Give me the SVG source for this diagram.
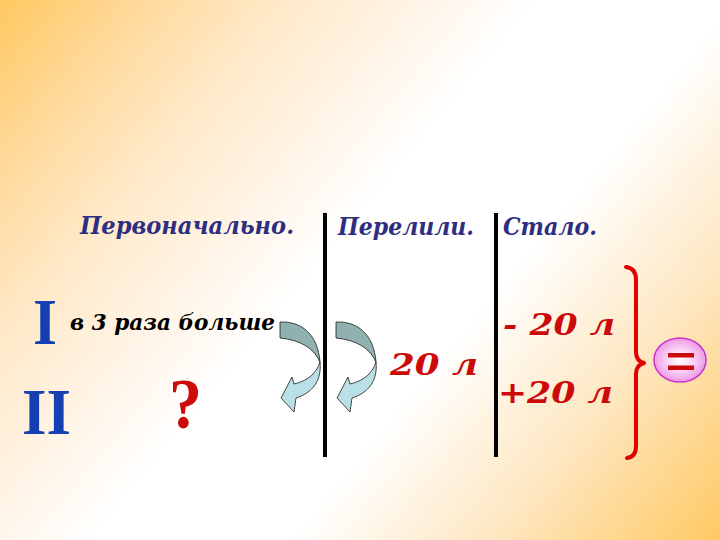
<svg xmlns="http://www.w3.org/2000/svg" width="720" height="540" viewBox="0 0 720 540">
<defs>
<linearGradient id="bg" gradientUnits="userSpaceOnUse" x1="0" y1="0" x2="695" y2="573">
<stop offset="0" stop-color="#FFC960"/>
<stop offset="0.12" stop-color="#FFD99A"/>
<stop offset="0.25" stop-color="#FFEACB"/>
<stop offset="0.38" stop-color="#FFF6EB"/>
<stop offset="0.46" stop-color="#FFFFFF"/>
<stop offset="0.63" stop-color="#FFFFFF"/>
<stop offset="0.8" stop-color="#FEE7C2"/>
<stop offset="1" stop-color="#FFC962"/>
</linearGradient>
<radialGradient id="pink" cx="0.5" cy="0.5" r="0.5">
<stop offset="0" stop-color="#FFFFFF"/>
<stop offset="0.5" stop-color="#FAD4F6"/>
<stop offset="1" stop-color="#EE99E6"/>
</radialGradient>
<g id="curvedArrow">
<path class="dark" d="M 280 322 C 302 321 318 335 320 362 C 314 348 300 340 280 338 Z"/>
<path class="light" d="M 320 362 C 322 381 312 393 296 398 L 294 412 L 281 398 L 292 377 L 294 384 C 306 381 316 375 320 362 Z"/>
</g>
</defs>
<style>
.hdr{font-family:"DejaVu Serif","Liberation Serif",serif;font-style:italic;font-weight:bold;font-size:24px;fill:#2E2E80}
.roman{font-family:"Liberation Serif",serif;font-weight:bold;font-size:66px;fill:#1440B4}
.red{font-family:"DejaVu Serif","Liberation Serif",serif;font-style:italic;font-weight:bold;font-size:30px;fill:#CC0A0A}
.blk{font-family:"DejaVu Serif","Liberation Serif",serif;font-style:italic;font-weight:bold;font-size:22px;fill:#000}
.vline{stroke:#000;stroke-width:4}
.dark{fill:#8FB1B0;stroke:#1a1a1a;stroke-width:0.8}
.light{fill:#B8E0E6;stroke:#1a1a1a;stroke-width:0.8}
</style>
<rect x="0" y="0" width="720" height="540" fill="url(#bg)"/>
<g id="headers">
<text class="hdr" x="80" y="234" textLength="214" lengthAdjust="spacingAndGlyphs">Первоначально.</text>
<text class="hdr" x="338" y="235" textLength="136" lengthAdjust="spacingAndGlyphs">Перелили.</text>
<text class="hdr" x="503" y="235" textLength="94" lengthAdjust="spacingAndGlyphs">Стало.</text>
</g>
<g id="dividers">
<line class="vline" x1="325" y1="213" x2="325" y2="457"/>
<line class="vline" x1="496" y1="213" x2="496" y2="457"/>
</g>
<g id="row1">
<text class="roman" x="33" y="344" textLength="24" lengthAdjust="spacingAndGlyphs">I</text>
<text class="blk" x="70" y="330" textLength="205" lengthAdjust="spacingAndGlyphs">в 3 раза больше</text>
</g>
<g id="row2">
<text class="roman" x="22" y="434" textLength="49" lengthAdjust="spacingAndGlyphs">II</text>
<text x="169" y="428" font-family="Liberation Serif, serif" font-weight="bold" font-size="72" fill="#CC0A0A" textLength="33" lengthAdjust="spacingAndGlyphs">?</text>
</g>
<g id="arrows">
<use href="#curvedArrow"/>
<use href="#curvedArrow" transform="translate(56,0)"/>
</g>
<g id="poured">
<text class="red" x="390" y="375" textLength="88" lengthAdjust="spacingAndGlyphs">20 л</text>
</g>
<g id="result">
<text class="red" x="503" y="335" textLength="112" lengthAdjust="spacingAndGlyphs">- 20 л</text>
<text class="red" x="498" y="403" textLength="115" lengthAdjust="spacingAndGlyphs">+20 л</text>
</g>
<g id="brace">
<path d="M 626 267 Q 636 268 636 280 L 636 352 Q 636 361 644 363 Q 636 365 636 374 L 636 446 Q 636 457 627 458" fill="none" stroke="#E00000" stroke-width="4" stroke-linecap="round" stroke-linejoin="round"/>
</g>
<g id="equals">
<ellipse cx="680" cy="360" rx="26" ry="22" fill="url(#pink)" stroke="#CC33CC" stroke-width="1.5"/>
<rect x="668" y="353" width="26" height="4.5" fill="#CC0A0A"/>
<rect x="668" y="365.5" width="26" height="4.5" fill="#CC0A0A"/>
</g>
</svg>
